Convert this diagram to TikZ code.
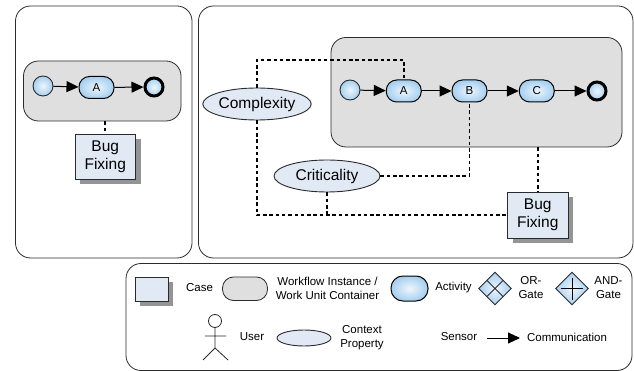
\documentclass[tikz,border=0pt]{standalone}
\usepackage{fontspec}
\setmainfont{Liberation Sans}
\usetikzlibrary{arrows.meta,shapes.geometric,shadows}
\definecolor{edge}{HTML}{2B2B2B}
\definecolor{casefill}{HTML}{E1E9F5}
\definecolor{boxfill}{HTML}{DFDFDF}
\definecolor{actblue}{HTML}{A6CFF0}
\definecolor{actlight}{HTML}{EEF6FC}
\tikzset{
  bigfont/.style={font=\fontsize{15.5}{18}\selectfont},
  smallfont/.style={font=\fontsize{11.5}{14}\selectfont},
  panel/.style={draw=edge,thick,fill=white,rounded corners=15pt,inner sep=0pt},
  container/.style={draw=edge,line width=0.8pt,fill=boxfill,rounded corners=15pt,inner sep=0pt},
  casebox/.style={draw=edge,line width=0.9pt,fill=casefill,inner sep=0pt,align=center,bigfont,
    drop shadow={shadow xshift=5pt,shadow yshift=-5pt,fill=black!42,opacity=1}},
  activity/.style={draw=black,line width=1pt,inner color=actlight,outer color=actblue,
    rounded corners=10.5pt,minimum width=35pt,minimum height=22pt,inner sep=0pt,smallfont},
  startev/.style={circle,draw=edge,line width=0.9pt,inner color=actlight,outer color=actblue,
    minimum size=20pt,inner sep=0pt},
  endev/.style={circle,draw=black,line width=3pt,inner color=actlight,outer color=actblue,
    minimum size=18pt,inner sep=0pt},
  property/.style={ellipse,draw=edge,line width=0.9pt,fill=casefill,inner sep=0pt,bigfont},
  gate/.style={diamond,aspect=1,draw=edge,line width=0.9pt,inner color=actlight,outer color=actblue,
    minimum size=33pt,inner sep=0pt},
  flow/.style={-{Triangle[length=12pt,width=11pt]},line width=1pt,black},
  sensor/.style={dash pattern=on 3.5pt off 2.8pt,line width=1.8pt,black},
  legend/.style={smallfont,align=center,inner sep=0pt}
}
\begin{document}
\begin{tikzpicture}[x=1pt,y=-1pt]
	\useasboundingbox (0,0) rectangle (634,371);
	% panels
	\node (left) at (103.75,132) [panel,minimum width=176.5pt,minimum height=252pt] {};
	\node (right) at (415.75,132) [panel,minimum width=434.5pt,minimum height=252pt] {};
	\node (key) at (379,317) [panel,minimum width=506pt,minimum height=107pt] {};
	% left process
	\node (lbox) at (102.25,91) [container,minimum width=157.5pt,minimum height=60pt] {};
	\node (l0) at (43,86) [startev] {};
	\node (l1) at (96.5,87.5) [activity] {A};
	\node (l2) at (154,87) [endev] {};
	\draw [flow] (l0) -- (l1);
	\draw [flow] (l1) -- (l2);
	\node (lbug) at (105.25,156.5) [casebox,minimum width=60.5pt,minimum height=45pt] {Bug\\Fixing};
	\draw [sensor] (lbox.south -| lbug.north) -- (lbug.north);
	% right process
	\node (rbox) at (476.5,92.25) [container,minimum width=291pt,minimum height=109.5pt] {};
	\node (p0) at (350,90) [startev] {};
	\foreach \x/\px/\name in {1/403.75/A,2/469.5/B,3/536.75/C} {
	  \node (p\x) at (\px,91) [activity] {\name};
	}
	\node (p4) at (597,91) [endev] {};
	\foreach \x [evaluate=\x as \y using int(\x+1)] in {0,...,3} {
	  \draw [flow] (p\x) -- (p\y);
	}
	\node (bug) at (537.75,215.25) [casebox,minimum width=60.5pt,minimum height=45.5pt] {Bug\\Fixing};
	\node (complexity) at (257,104) [property,minimum width=108pt,minimum height=32pt] {Complexity};
	\node (criticality) at (327,176) [property,minimum width=106pt,minimum height=32pt] {Criticality};
	\coordinate (top) at (p1.north |- 0,60);
	\draw [sensor] (complexity.north) |- (top) -- (p1.north);
	\draw [sensor] (complexity.south) |- (bug.west);
	\draw [sensor] (criticality.south) -- (criticality.south |- bug.west);
	\draw [sensor] (criticality.east) -| (p2.south);
	\draw [sensor] (bug.north |- rbox.south) -- (bug.north);
	% legend
	\node (kcase) at (151.5,289) [casebox,minimum width=33pt,minimum height=24pt] {};
	\node (tcase) at (199.5,288) [legend] {Case};
	\node (kbox) at (245,288.75) [container,rounded corners=11pt,minimum width=45pt,minimum height=23.5pt] {};
	\node (tbox) at (327.5,288) [legend] {Workflow Instance /\\Work Unit Container};
	\node (kact) at (409.5,288.5) [activity,rounded corners=12pt,minimum width=37pt,minimum height=25pt] {};
	\node (tact) at (453.5,288) [legend] {Activity};
	\node (kor) at (495,288.5) [gate] {};
	\draw [edge,line width=0.9pt] (kor.center) +(-8,-8) -- +(8,8) (kor.center) +(-8,8) -- +(8,-8);
	\node (tor) at (531,288) [legend] {OR-\\Gate};
	\node (kand) at (572,288.5) [gate] {};
	\draw [black,line width=0.9pt] (kand.center) +(-11,0) -- +(11,0) (kand.center) +(0,-11) -- +(0,11);
	\node (tand) at (608.5,288) [legend] {AND-\\Gate};
	% user
	\node (head) at (215,321) [circle,draw=edge,line width=0.8pt,minimum size=13pt,inner sep=0pt] {};
	\coordinate (hip) at (215,348);
	\coordinate (footl) at (203,360);
	\coordinate (footr) at (228,360);
	\coordinate (arml) at (205,336);
	\coordinate (armr) at (226,336);
	\draw [edge,line width=0.8pt] (head.south) -- (hip) (footl) -- (hip) -- (footr) (arml) -- (armr);
	\node (tuser) at (252,337) [legend] {User};
	\node (kprop) at (304,338) [property,minimum width=54pt,minimum height=16pt] {};
	\node (tprop) at (362,338) [legend] {Context\\Property};
	\node (tsensor) at (459,337) [legend] {Sensor};
	\node (tcomm) at (567,337) [legend] {Communication};
	\coordinate (ka) at (487,338);
	\coordinate (kb) at (520,338);
	\draw [flow] (ka) -- (kb);
\end{tikzpicture}
\end{document}
